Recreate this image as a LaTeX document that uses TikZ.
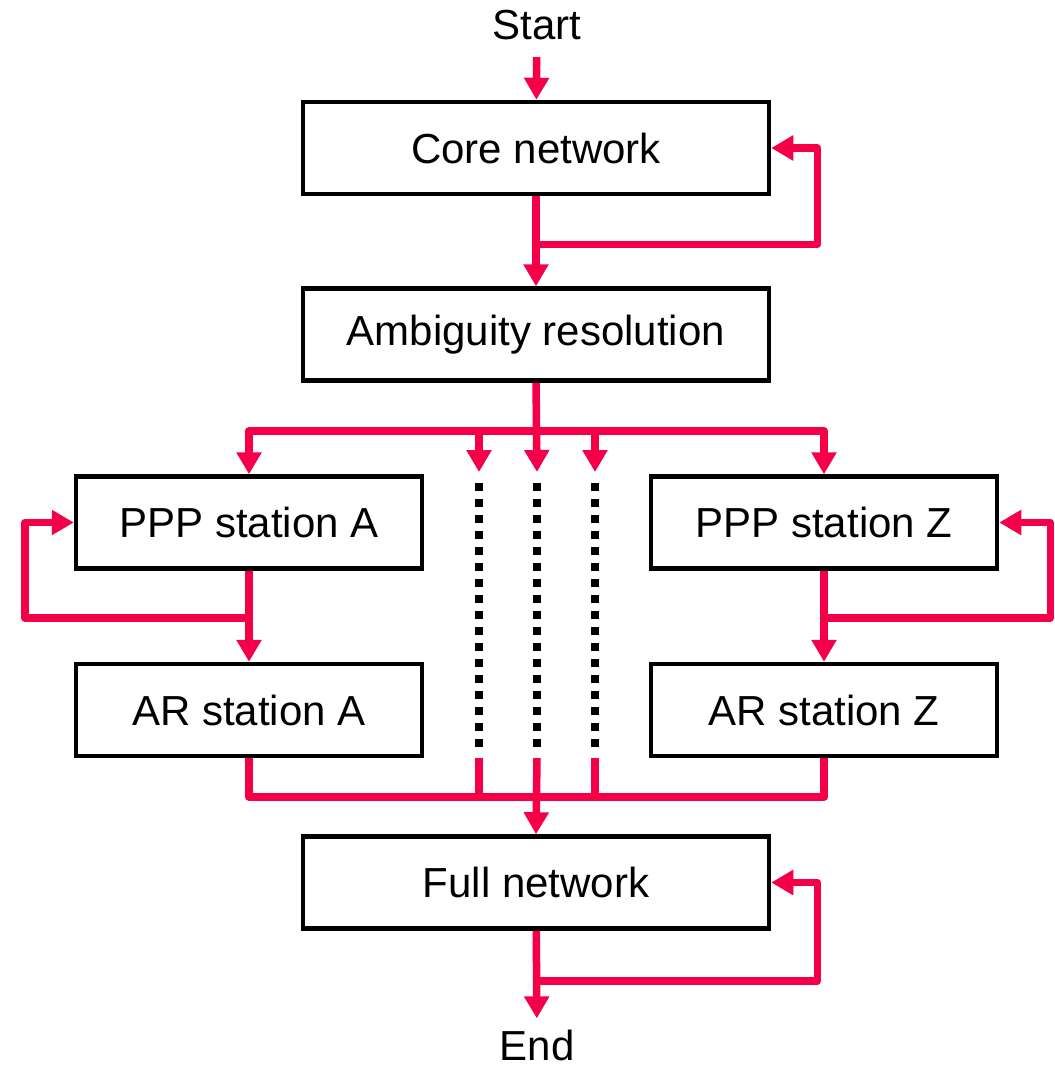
\documentclass[tikz,border=0pt]{standalone}
\usepackage{fontspec}
\setmainfont{Liberation Sans}
\usetikzlibrary{arrows.meta}
\definecolor{flowred}{RGB}{245,0,72}
\tikzset{
box/.style={draw, line width=4.5pt, minimum width=466pt, minimum height=92pt, inner sep=0pt, font=\fontsize{42}{50}\selectfont},
small/.style={box, minimum width=346pt},
term/.style={inner sep=0pt, font=\fontsize{42}{50}\selectfont},
line/.style={draw=flowred, line width=7.5pt, line join=round},
flow/.style={line, -{Triangle[width=24pt,length=22pt]}},
dotline/.style={draw, line width=8pt, dash pattern=on 8pt off 8pt},
}

\begin{document}
\begin{tikzpicture}[x=1pt, y=-1pt]
    \useasboundingbox (0,0) rectangle (1054,1070);
        \node[term] (start) at (537,25) {Start};
        \node[box] (core) at (536,148) {Core network};
        \node[box] (amb) at (536,334.5) {Ambiguity resolution};
        \node[small] (pppA) at (249,522.5) {PPP station A};
        \node[small] (arA) at (249,710) {AR station A};
        \node[small] (pppZ) at (824,522.5) {PPP station Z};
        \node[small] (arZ) at (824,710) {AR station Z};
        \node[box] (full) at (536,882.5) {Full network};
        \node[term] (end) at (537,1045) {End};
        \coordinate (merge) at (537,797);
        \foreach \x/\n in {479/1, 537/2, 595/3} {
            \coordinate (top\n) at (\x,472);
            \coordinate (bot\n) at (\x,758);
            \draw[dotline] (\x,483) -- (\x,748);
        }
        \draw[flow, shorten <=17pt] (start) -- (core);
        \draw[flow] (core) -- (amb);
        \draw[flow] (core.south) ++(0,48) -| ([xshift=46pt]core.east) -- (core.east);
        \draw[flow] (amb.south) ++(0,48) -| (pppA.north);
        \draw[flow] (amb.south) ++(0,48) -| (pppZ.north);
        \draw[flow] (amb.south) ++(0,48) -| (top1);
        \draw[flow] (amb.south) ++(0,48) -| (top3);
        \draw[flow] (amb.south) -- (top2);
        \draw[flow] (pppA) -- (arA);
        \draw[flow] (pppA.south) ++(0,47) -| ([xshift=-49pt]pppA.west) -- (pppA.west);
        \draw[flow] (pppZ) -- (arZ);
        \draw[flow] (pppZ.south) ++(0,47) -| ([xshift=51pt]pppZ.east) -- (pppZ.east);
        \draw[line] (arA.south) |- (merge) -| (arZ.south);
        \draw[line] (bot1) -- (bot1 |- merge);
        \draw[line] (bot3) -- (bot3 |- merge);
        \draw[flow] (bot2) -- (full.north);
        \draw[flow] (full.south) ++(0,50) -| ([xshift=46pt]full.east) -- (full.east);
        \draw[flow, shorten >=11pt] (full) -- (end);
\end{tikzpicture}
\end{document}
